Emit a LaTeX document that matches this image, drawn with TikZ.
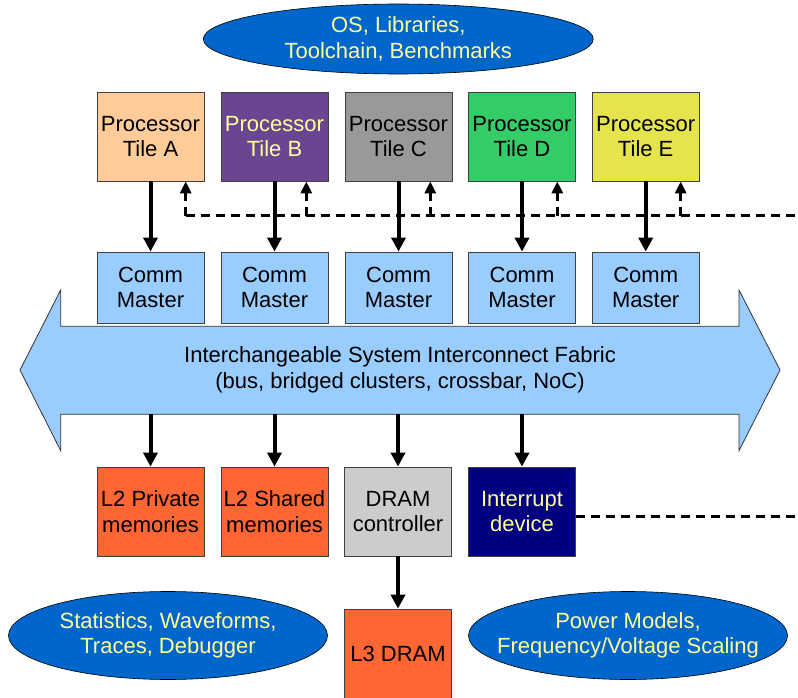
\documentclass[tikz,border=0pt]{standalone}
\usepackage{fontspec}
\setmainfont{Liberation Sans}
\usetikzlibrary{arrows.meta, shapes.geometric}

\definecolor{tilea}{HTML}{FFCC99}
\definecolor{tileb}{HTML}{6A4692}
\definecolor{tilec}{HTML}{999999}
\definecolor{tiled}{HTML}{33CC66}
\definecolor{tilee}{HTML}{E6E44C}
\definecolor{cmblue}{HTML}{99CCFF}
\definecolor{memorange}{HTML}{FF6633}
\definecolor{ctrlgrey}{HTML}{CCCCCC}
\definecolor{irqnavy}{HTML}{000080}
\definecolor{ovalblue}{HTML}{0066CC}
\definecolor{softyellow}{HTML}{FFFF99}

\tikzset{
    txt/.style={font=\fontsize{22}{25.5}\selectfont},
    blk/.style={txt, draw=black!75, line width=0.8pt, minimum width=107pt,
        minimum height=89pt, inner sep=0pt, align=center},
    cmbox/.style={blk, fill=cmblue, minimum height=71pt},
    oval/.style={ellipse, draw=black, line width=0.6pt, fill=ovalblue, inner sep=0pt},
    ovaltxt/.style={txt, text=softyellow, align=center},
    link/.style={line width=4pt, -{Triangle[length=14pt,width=14pt]}},
    dline/.style={line width=3pt, dash pattern=on 9pt off 6pt},
    dlink/.style={dline, -{Triangle[length=12pt,width=11pt]}},
}

\begin{document}
\begin{tikzpicture}[x=1pt, y=-1pt]
        \useasboundingbox (0,0) rectangle (798,698);

        % software layer
        \node[oval, minimum width=390pt, minimum height=70pt] (sw) at (398.3,39) {};
        \node[ovaltxt] (swtxt) at (sw) {OS, Libraries,\\Toolchain, Benchmarks};

        % processor tiles
        \node[blk, fill=tilea] (pa) at (150.5,136.5) {Processor\\Tile A};
        \node[blk, fill=tileb, text=softyellow] (pb) at (274.5,136.5) {Processor\\Tile B};
        \node[blk, fill=tilec] (pc) at (398.5,136.5) {Processor\\Tile C};
        \node[blk, fill=tiled] (pd) at (522,136.5) {Processor\\Tile D};
        \node[blk, fill=tilee] (pe) at (645.7,136.5) {Processor\\Tile E};

        % comm masters
        \node[cmbox] (ca) at (150.5,287.5) {Comm\\Master};
        \node[cmbox] (cb) at (274.5,287.5) {Comm\\Master};
        \node[cmbox] (cc) at (398.5,287.5) {Comm\\Master};
        \node[cmbox] (cd) at (522,287.5) {Comm\\Master};
        \node[cmbox] (ce) at (645.7,287.5) {Comm\\Master};

        \draw[link] (pa) -- (ca);
        \draw[link] (pb) -- (cb);
        \draw[link] (pc) -- (cc);
        \draw[link] (pd) -- (cd);
        \draw[link] (pe) -- (ce);

        % dashed interrupt lines
        \coordinate (da) at (185.7,215.7);
        \coordinate (db) at (306.3,215.7);
        \coordinate (dc) at (430.3,215.7);
        \coordinate (dd) at (557.3,215.7);
        \coordinate (de) at (680.7,215.7);
        \coordinate (dend) at (798,215.7);

        \draw[dline] (da) -- (dend);
        \draw[dlink] (da) -- (da |- pa.south);
        \draw[dlink] (db) -- (db |- pb.south);
        \draw[dlink] (dc) -- (dc |- pc.south);
        \draw[dlink] (dd) -- (dd |- pd.south);
        \draw[dlink] (de) -- (de |- pe.south);

        % interconnect fabric
        \draw[draw=black!80, line width=0.8pt, fill=cmblue, line join=miter]
            (20,370) -- (60.7,290) -- (60.7,326.3) -- (739,326.3) -- (739,290)
            -- (780,370) -- (739,450.7) -- (739,414.3) -- (60.7,414.3)
            -- (60.7,450.7) -- cycle;
        \node[txt, align=center] (fab) at (400,370) {Interchangeable System Interconnect Fabric\\(bus, bridged clusters, crossbar, NoC)};

        % slaves
        \node[blk, fill=memorange] (l2p) at (150.5,511.5) {L2 Private\\memories};
        \node[blk, fill=memorange] (l2s) at (274.5,511.5) {L2 Shared\\memories};
        \node[blk, fill=ctrlgrey] (dram) at (398,511.5) {DRAM\\controller};
        \node[blk, fill=irqnavy, text=softyellow] (intr) at (522,511.5) {Interrupt\\device};
        \node[blk, fill=memorange] (l3) at (398,653.5) {L3 DRAM};

        \coordinate (fa) at (150.5,414.3);
        \coordinate (fb) at (274.5,414.3);
        \coordinate (fc) at (398,414.3);
        \coordinate (fd) at (522,414.3);

        \draw[link] (fa) -- (l2p);
        \draw[link] (fb) -- (l2s);
        \draw[link] (fc) -- (dram);
        \draw[link] (fd) -- (intr);
        \draw[link] (dram) -- (l3);

        \coordinate (iend) at (798,516.7);
        \draw[dline] (intr.east |- iend) -- (iend);

        % tools
        \node[oval, minimum width=319pt, minimum height=88pt] (dbg) at (168,635.5) {};
        \node[ovaltxt] (dbgtxt) at (dbg) {Statistics, Waveforms,\\Traces, Debugger};
        \node[oval, minimum width=319pt, minimum height=88pt] (pwr) at (628,635.5) {};
        \node[ovaltxt] (pwrtxt) at (pwr) {Power Models,\\Frequency/Voltage Scaling};
    \end{tikzpicture}
\end{document}
